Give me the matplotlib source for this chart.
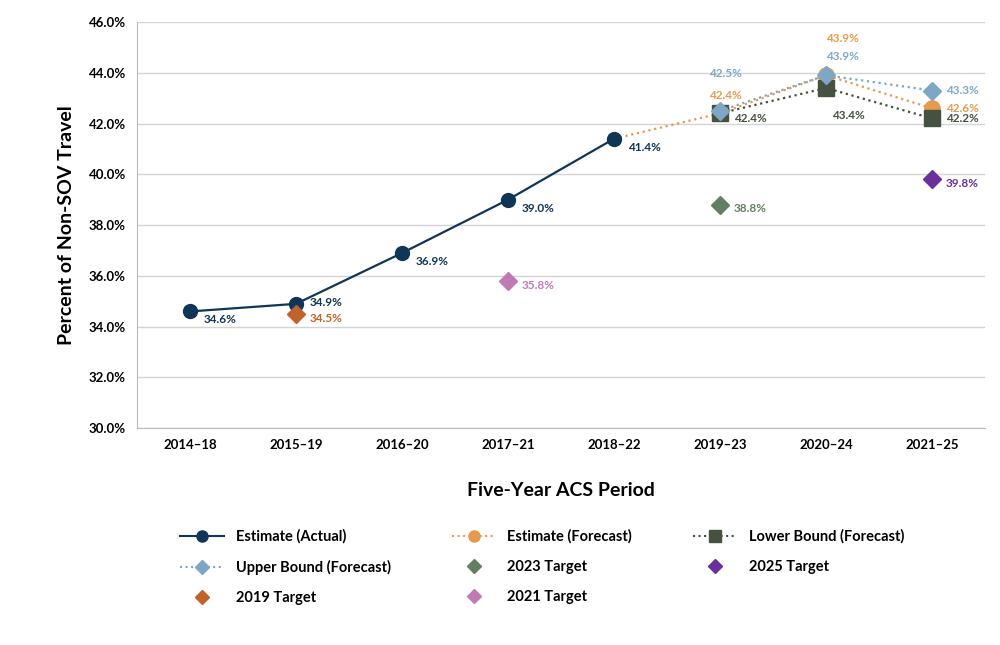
import numpy as np
import matplotlib.pyplot as plt
import matplotlib as mpl
from matplotlib.lines import Line2D

mpl.rcParams.update({'font.family': ['Lato', 'DejaVu Sans'], 'font.weight': 'bold',
                     'axes.labelweight': 'bold'})

periods = ['2014–18', '2015–19', '2016–20', '2017–21', '2018–22', '2019–23', '2020–24', '2021–25']
actual = [34.6, 34.9, 36.9, 39.0, 41.4]
fc_est = [41.4, 42.4, 43.9, 42.6]          # from 2018-22
fc_low = [42.4, 43.4, 42.2]                # from 2019-23
fc_up = [42.5, 43.9, 43.3]
targets = {'2019 Target': (1, 34.5, '#c0622a'), '2021 Target': (3, 35.8, '#c07ab5'),
           '2023 Target': (5, 38.8, '#637f62'), '2025 Target': (7, 39.8, '#6b2f9c')}

NAVY, ORANGE, DARK, BLUE = '#0f3557', '#e59a4e', '#46513f', '#7ea7c6'

fig = plt.figure(figsize=(10, 6.45), dpi=100)
ax = fig.add_axes([0.137, 0.336, 0.848, 0.63])
x = np.arange(len(periods))

ax.plot(x[4:], fc_est, ':', color=ORANGE, lw=1.6, marker='o', ms=11, markevery=[1, 2, 3], zorder=3)
ax.plot(x[5:], fc_low, ':', color=DARK, lw=1.6, marker='s', ms=11, zorder=4)
ax.plot(x[5:], fc_up, ':', color=BLUE, lw=1.6, marker='D', ms=9, zorder=5)
ax.plot(x[:5], actual, '-', color=NAVY, lw=1.6, marker='o', ms=10, zorder=6)
for name, (xi, v, c) in targets.items():
    ax.plot(xi, v, 'D', color=c, ms=9, zorder=6)

fs = 8.5
offs = [-6, 1, -6, -6, -6]
for xi, v, dy in zip(x[:5], actual, offs):
    ax.annotate(f'{v:.1f}%', (xi, v), xytext=(10, dy), textcoords='offset points', color=NAVY, fontsize=fs, va='center')
for name, (xi, v, c) in targets.items():
    ax.annotate(f'{v:.1f}%', (xi, v), xytext=(10, -3), textcoords='offset points', color=c, fontsize=fs, va='center')
ax.annotate('42.5%', (5, 42.5), xytext=(-8, 24), textcoords='offset points', color=BLUE, fontsize=fs)
ax.annotate('42.4%', (5, 42.4), xytext=(-8, 10), textcoords='offset points', color=ORANGE, fontsize=fs)
ax.annotate('42.4%', (5, 42.4), xytext=(10, -4), textcoords='offset points', color=DARK, fontsize=fs, va='center')
ax.annotate('43.9%', (6, 43.9), xytext=(0, 24), textcoords='offset points', color=ORANGE, fontsize=fs)
ax.annotate('43.9%', (6, 43.9), xytext=(0, 11), textcoords='offset points', color=BLUE, fontsize=fs)
ax.annotate('43.4%', (6, 43.4), xytext=(4, -22), textcoords='offset points', color=DARK, fontsize=fs)
ax.annotate('43.3%', (7, 43.3), xytext=(10, 0), textcoords='offset points', color=BLUE, fontsize=fs, va='center')
ax.annotate('42.6%', (7, 42.6), xytext=(10, 0), textcoords='offset points', color=ORANGE, fontsize=fs, va='center')
ax.annotate('42.2%', (7, 42.2), xytext=(10, 0), textcoords='offset points', color=DARK, fontsize=fs, va='center')

ax.set_xlim(-0.5, 7.5)
ax.set_ylim(30, 46)
ax.set_yticks(np.arange(30, 46.1, 2))
ax.set_yticklabels([f'{v:.1f}%' for v in np.arange(30, 46.1, 2)], fontsize=9.5)
ax.set_xticks(x)
ax.set_xticklabels(periods, fontsize=9.5)
ax.tick_params(length=0, pad=8)
ax.grid(axis='y', color='#d4d4d4', lw=1)
ax.set_axisbelow(True)
for s in ['top', 'right']:
    ax.spines[s].set_visible(False)
ax.spines['left'].set_color('#bbbbbb')
ax.spines['bottom'].set_color('#bbbbbb')
ax.set_xlabel('Five-Year ACS Period', fontsize=14, labelpad=22, fontweight='bold')
ax.set_ylabel('Percent of Non-SOV Travel', fontsize=14, labelpad=10, fontweight='bold')

handles = [
    Line2D([], [], color=NAVY, ls='-', marker='o', ms=8, label='Estimate (Actual)'),
    Line2D([], [], color=BLUE, ls=':', marker='D', ms=7, label='Upper Bound (Forecast)'),
    Line2D([], [], color=targets['2019 Target'][2], ls='', marker='D', ms=7, label='2019 Target'),
    Line2D([], [], color=ORANGE, ls=':', marker='o', ms=8, label='Estimate (Forecast)'),
    Line2D([], [], color=targets['2023 Target'][2], ls='', marker='D', ms=7, label='2023 Target'),
    Line2D([], [], color=targets['2021 Target'][2], ls='', marker='D', ms=7, label='2021 Target'),
    Line2D([], [], color=DARK, ls=':', marker='s', ms=8, label='Lower Bound (Forecast)'),
    Line2D([], [], color=targets['2025 Target'][2], ls='', marker='D', ms=7, label='2025 Target'),
]
fig.legend(handles=handles, ncol=3, loc='upper left', bbox_to_anchor=(0.167, 0.2),
           frameon=False, fontsize=10.5, handlelength=3, columnspacing=4.2, labelspacing=1.1)

fig.savefig('out.png')
